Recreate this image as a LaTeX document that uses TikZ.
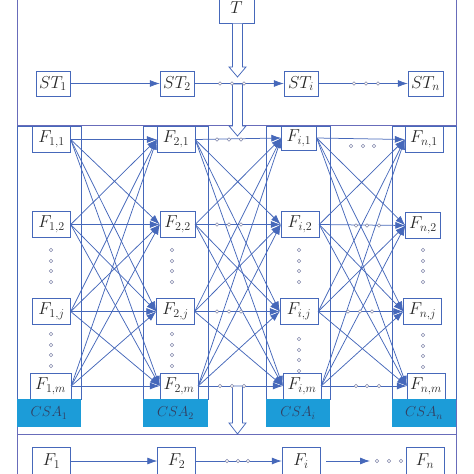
\documentclass[tikz,border=0pt]{standalone}
\usetikzlibrary{arrows.meta}
\definecolor{lineblue}{RGB}{70,104,186}
\definecolor{framecol}{RGB}{104,108,186}
\definecolor{csablue}{RGB}{28,156,216}
\definecolor{csatext}{RGB}{50,62,96}
\definecolor{dotcol}{RGB}{130,136,170}
\tikzset{
  fbox/.style={draw=lineblue, fill=white, minimum width=38pt, minimum height=26pt, inner sep=0pt, font=\fontsize{16.5}{19}\selectfont, text=black!85},
  csabox/.style={fill=csablue, minimum width=64pt, minimum height=28pt, inner sep=0pt, font=\fontsize{14}{16}\selectfont, text=csatext},
  link/.style={draw=lineblue, line width=0.75pt, -{Latex[length=10pt,width=7pt]}},
  hollow/.style={draw=lineblue, fill=white, line width=0.75pt},
  dotc/.style={draw=dotcol, fill=white, line width=0.6pt}
}
\begin{document}
\begin{tikzpicture}[x=1pt,y=-1pt] %Esquema de columnas F con bloques CSA
            \useasboundingbox (0,0) rectangle (474,474);
            \draw[framecol, line width=0.8pt] (17,-5) -- (17,480);
            \draw[framecol, line width=0.8pt] (456,-5) -- (456,480);
            \draw[framecol, line width=0.8pt] (17,125) -- (456,125);
            \draw[framecol, line width=0.8pt] (17,434) -- (456,434);

            \draw[lineblue, line width=0.75pt] (17,126) rectangle (81,399);
            \draw[lineblue, line width=0.75pt] (143,126) rectangle (208,399);
            \draw[lineblue, line width=0.75pt] (266,126) rectangle (330,399);
            \draw[lineblue, line width=0.75pt] (392,126) rectangle (456,399);

            \node[fbox, minimum width=35pt, minimum height=31pt] (T) at (236.5,8) {$T$};
            \node[fbox, minimum width=34pt, minimum height=25pt] (ST1) at (53,83.5) {$ST_1$};
            \node[fbox, minimum width=34pt, minimum height=25pt] (ST2) at (177,83.5) {$ST_2$};
            \node[fbox, minimum width=34pt, minimum height=25pt] (STi) at (301,83.5) {$ST_i$};
            \node[fbox, minimum width=35pt, minimum height=25pt] (STn) at (425.5,83.5) {$ST_n$};

            \node[fbox] (F11) at (51.5,139.5) {$F_{1,1}$};
            \node[fbox] (F12) at (51.5,224.5) {$F_{1,2}$};
            \node[fbox] (F1j) at (51.5,311.5) {$F_{1,j}$};
            \node[fbox, minimum width=41pt] (F1m) at (50.5,386) {$F_{1,m}$};
            \node[fbox] (F21) at (176,139.5) {$F_{2,1}$};
            \node[fbox, minimum width=35pt] (F22) at (177.5,224.5) {$F_{2,2}$};
            \node[fbox] (F2j) at (175.5,311.5) {$F_{2,j}$};
            \node[fbox] (F2m) at (179,386) {$F_{2,m}$};
            \node[fbox, minimum width=35pt, minimum height=24pt] (Fi1) at (299,138) {$F_{i,1}$};
            \node[fbox] (Fi2) at (300,224.5) {$F_{i,2}$};
            \node[fbox] (Fij) at (299,311.5) {$F_{i,j}$};
            \node[fbox] (Fim) at (302,386) {$F_{i,m}$};
            \node[fbox] (Fn1) at (424,139.5) {$F_{n,1}$};
            \node[fbox, minimum width=35pt] (Fn2) at (423,225.5) {$F_{n,2}$};
            \node[fbox] (Fnj) at (422.5,311.5) {$F_{n,j}$};
            \node[fbox] (Fnm) at (426,386) {$F_{n,m}$};

            \node[csabox] (CSA1) at (49,413) {$CSA_1$};
            \node[csabox, minimum width=65pt] (CSA2) at (175.5,413) {$CSA_2$};
            \node[csabox] (CSAi) at (298,413) {$CSA_i$};
            \node[csabox] (CSAn) at (424,413) {$CSA_n$};

            \node[fbox, minimum height=28pt] (F1) at (51.5,461) {$F_1$};
            \node[fbox, minimum height=28pt] (F2) at (176.5,461) {$F_2$};
            \node[fbox, minimum height=28pt] (Fi) at (301,461) {$F_i$};
            \node[fbox, minimum height=28pt] (Fn) at (425,461) {$F_n$};
            \coordinate (Fend) at (370,461);

            \foreach \a/\b in {1/2,2/i,i/n}
              \foreach \r in {1,2,j,m}
                \foreach \s in {1,2,j,m}
                  \draw[link] (F\a\r.east) -- (F\b\s.west);

            \draw[link] (ST1) -- (ST2);
            \draw[link] (ST2) -- (STi);
            \draw[link] (STi) -- (STn);
            \draw[link] (F1) -- (F2);
            \draw[link] (F2) -- (Fi);
            \draw[link, shorten <=6pt] (Fi) -- (Fend);

            \draw[hollow] (232.5,23.5) -- (232.5,67) -- (229,67) -- (237.5,77) -- (246,67) -- (242.5,67) -- (242.5,23.5);
            \draw[hollow] (232.5,84) -- (232.5,126) -- (229,126) -- (237.5,136) -- (246,126) -- (242.5,126) -- (242.5,84) -- cycle;
            \draw[hollow] (232.5,386) -- (232.5,423) -- (229,423) -- (237.5,434) -- (246,423) -- (242.5,423) -- (242.5,386) -- cycle;

            % puntos suspensivos
            \foreach \x in {220,232,244} \draw[dotc] (\x,83.5) circle (1.8pt);
            \foreach \x in {354,366,378} \draw[dotc] (\x,83.5) circle (1.8pt);
            \foreach \x in {217,229,241} {
              \draw[dotc] (\x,139.5) circle (1.8pt);
              \draw[dotc] (\x,224.5) circle (1.8pt);
              \draw[dotc] (\x,311.5) circle (1.8pt);
              \draw[dotc] (\x+3,386) circle (1.8pt);
            }
            \foreach \x in {351,363,374} \draw[dotc] (\x,146) circle (1.8pt);
            \foreach \x in {356,367,379} {
              \draw[dotc] (\x,225.5) circle (1.8pt);
              \draw[dotc] (\x,386) circle (1.8pt);
            }
            \foreach \x in {348,360,372} \draw[dotc] (\x,311.5) circle (1.8pt);
            \foreach \x in {227,238,248} \draw[dotc] (\x,461) circle (1.8pt);
            \foreach \x in {377,389,401} \draw[dotc] (\x,461) circle (1.8pt);
            \foreach \x/\u in {51/334,172/334,299/339,423/335}
              \foreach \y in {250,261,271,282} {
                \draw[dotc] (\x,\y) circle (1.8pt);
                \draw[dotc] (\x,\u+\y-250) circle (1.8pt);
              }
        \end{tikzpicture}
\end{document}
